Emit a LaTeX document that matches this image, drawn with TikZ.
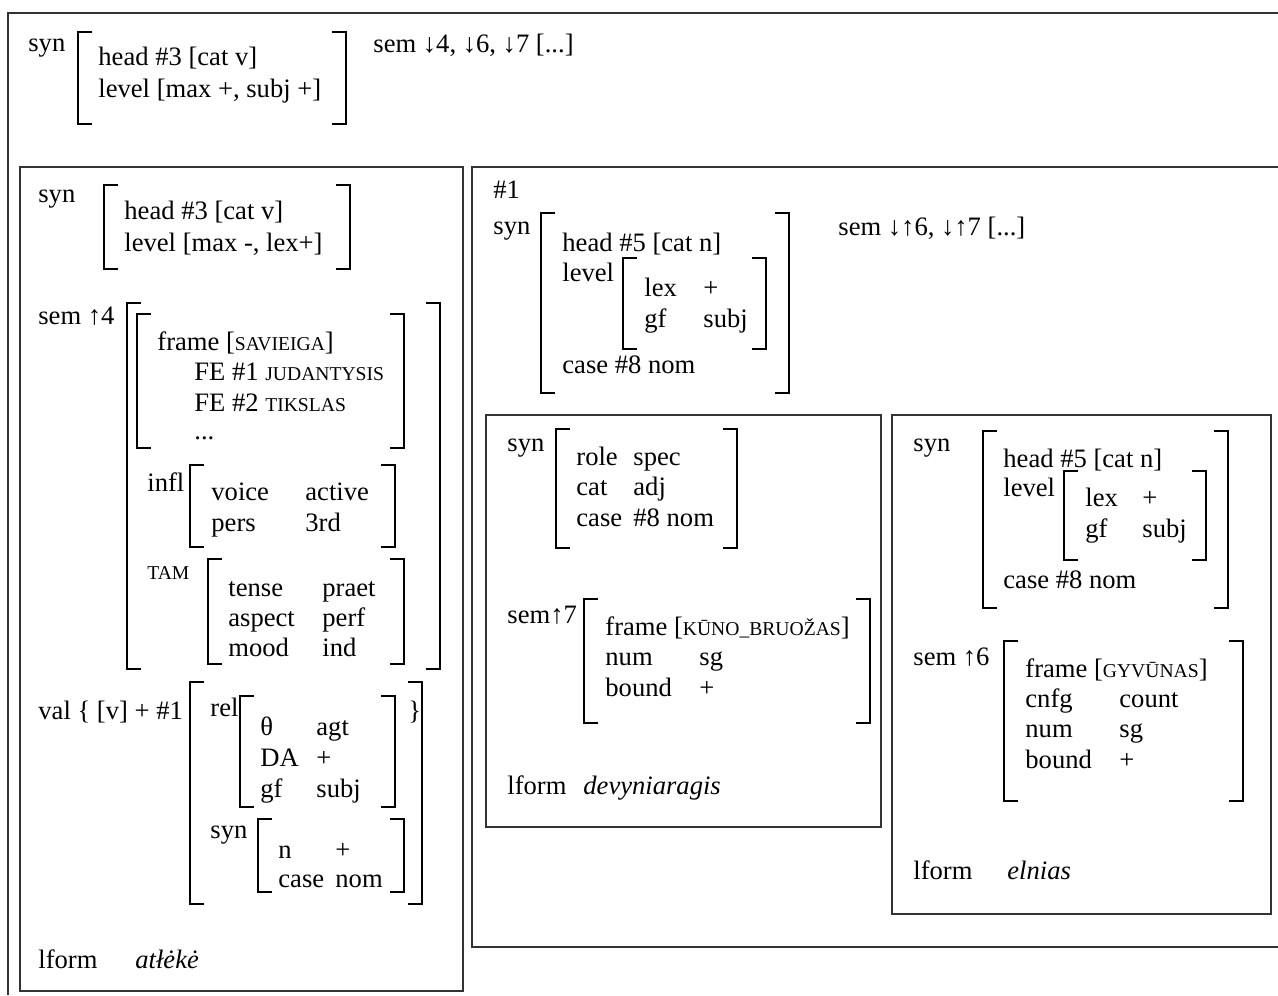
\documentclass[tikz,border=0pt]{standalone}
\usepackage{fontspec}
\setmainfont{Liberation Serif}
\newcommand{\sm}[1]{{\fontsize{9.8}{11}\selectfont #1}}
% pair of AVM brackets: left x, right x, top y, bottom y
\newcommand{\avm}[4]{%
  \draw[brk] (#1+14,#3) -- (#1,#3) -- (#1,#4) -- (#1+14,#4);
  \draw[brk] (#2-14,#3) -- (#2,#3) -- (#2,#4) -- (#2-14,#4);}
\begin{document}
\begin{tikzpicture}[x=0.5pt,y=-0.5pt,
    every node/.style={anchor=mid west,inner sep=0pt,yshift=-2pt,font=\fontsize{13.3}{16}\selectfont},
    brk/.style={line width=0.8pt},
    frm/.style={line width=0.7pt,black!80}]
  \useasboundingbox (0,0) rectangle (1278,995);
  % frames
  \draw[frm] (8,995) -- (8,13) -- (1290,13);
  \draw[frm] (20,167) rectangle (463,991);
  \draw[frm] (1290,167) -- (472,167) -- (472,947) -- (1290,947);
  \draw[frm] (486,415) rectangle (881,827);
  \draw[frm] (892,415) rectangle (1271,914);
  % top
  \node (syn0) at (28,43) {syn};
  \avm{78}{346}{32}{124}
  \node (head0) at (98,57) {head \#3 [cat v]};
  \node (lev0) at (98,89) {level [max +, subj +]};
  \node (sem0) at (373,44) {sem ↓4, ↓6, ↓7 [...]};
  % verb: atleke
  \node (vsyn) at (38,194) {syn};
  \avm{104}{350}{185}{269}
  \node (vhead) at (124,211) {head \#3 [cat v]};
  \node (vlev) at (124,243) {level [max -, lex+]};
  \node (vsem) at (38,316) {sem ↑4};
  \avm{127}{440}{303}{669}
  \avm{137}{404}{314}{448}
  \node (vframe) at (157,342) {frame [\sm{SAVIEIGA}]};
  \node (vfe1) at (194,372) {FE \#1 \sm{JUDANTYSIS}};
  \node (vfe2) at (194,403) {FE \#2 \sm{TIKSLAS}};
  \node (vdots) at (194,431) {...};
  \node (vinfl) at (147,483) {infl};
  \avm{190}{395}{465}{547}
  \foreach \a/\b/\y/\n in {voice/active/492/1, pers/3rd/523/2}
    \node (vinflL\n) at (211,\y) {\a} node (vinflR\n) at (305,\y) {\b};
  \node (vtam) at (147,571) {\sm{TAM}};
  \avm{208}{404}{559}{664}
  \foreach \a/\b/\y/\n in {tense/praet/588/1, aspect/perf/618/2, mood/ind/648/3}
    \node (vtamL\n) at (228,\y) {\a} node (vtamR\n) at (322,\y) {\b};
  \node (vval) at (38,711) {val \{ [v] + \#1};
  \avm{190}{422}{682}{904}
  \node (vrel) at (210,708) {rel};
  \avm{240}{395}{696}{807}
  \foreach \a/\b/\y/\n in {θ/agt/727/1, DA/+/758/2, gf/subj/789/3}
    \node (vrelL\n) at (260,\y) {\a} node (vrelR\n) at (316,\y) {\b};
  \node (vbrace) at (408,711) {\}};
  \node (vsyn2) at (210,830) {syn};
  \avm{258}{404}{819}{892}
  \foreach \a/\b/\y/\n in {n/+/850/1, case/nom/879/2}
    \node (vsynL\n) at (278,\y) {\a} node (vsynR\n) at (335,\y) {\b};
  \node (vlform) at (38,960) {lform};
  \node (vword) at (135,960) {\itshape atłėkė};
  % noun phrase #1
  \node (nid) at (493,190) {\#1};
  \node (nsyn) at (493,226) {syn};
  \avm{541}{789}{213}{393}
  \node (nhead) at (562,243) {head \#5 [cat n]};
  \node (nlev) at (562,273) {level};
  \avm{623}{766}{258}{349}
  \foreach \a/\b/\y/\n in {lex/+/288/1, gf/subj/319/2}
    \node (nlevL\n) at (644,\y) {\a} node (nlevR\n) at (703,\y) {\b};
  \node (ncase) at (562,365) {case \#8 nom};
  \node (nsem) at (838,227) {sem ↓↑6, ↓↑7 [...]};
  % adjective: devyniaragis
  \node (asyn) at (507,443) {syn};
  \avm{556}{737}{429}{548}
  \foreach \a/\b/\y/\n in {role/spec/457/1, cat/adj/487/2, case/\#8 nom/518/3}
    \node (asynL\n) at (576,\y) {\a} node (asynR\n) at (633,\y) {\b};
  \node (asem) at (507,615) {sem↑7};
  \avm{584}{870}{599}{723}
  \node (aframe) at (605,627) {frame [\sm{KŪNO\_BRUOŽAS}]};
  \foreach \a/\b/\y/\n in {num/sg/657/1, bound/+/688/2}
    \node (asemL\n) at (605,\y) {\a} node (asemR\n) at (699,\y) {\b};
  \node (alform) at (507,786) {lform};
  \node (aword) at (583,786) {\itshape devyniaragis};
  % noun: elnias
  \node (esyn) at (913,443) {syn};
  \avm{983}{1228}{431}{608}
  \node (ehead) at (1003,459) {head \#5 [cat n]};
  \node (elev) at (1003,488) {level};
  \avm{1064}{1206}{471}{560}
  \foreach \a/\b/\y/\n in {lex/+/498/1, gf/subj/529/2}
    \node (elevL\n) at (1085,\y) {\a} node (elevR\n) at (1142,\y) {\b};
  \node (ecase) at (1003,580) {case \#8 nom};
  \node (esem) at (913,657) {sem ↑6};
  \avm{1004}{1243}{641}{801}
  \node (eframe) at (1025,669) {frame [\sm{GYVŪNAS}]};
  \foreach \a/\b/\y/\n in {cnfg/count/699/1, num/sg/729/2, bound/+/760/3}
    \node (esemL\n) at (1025,\y) {\a} node (esemR\n) at (1119,\y) {\b};
  \node (elform) at (913,871) {lform};
  \node (eword) at (1007,871) {\itshape elnias};
\end{tikzpicture}
\end{document}
